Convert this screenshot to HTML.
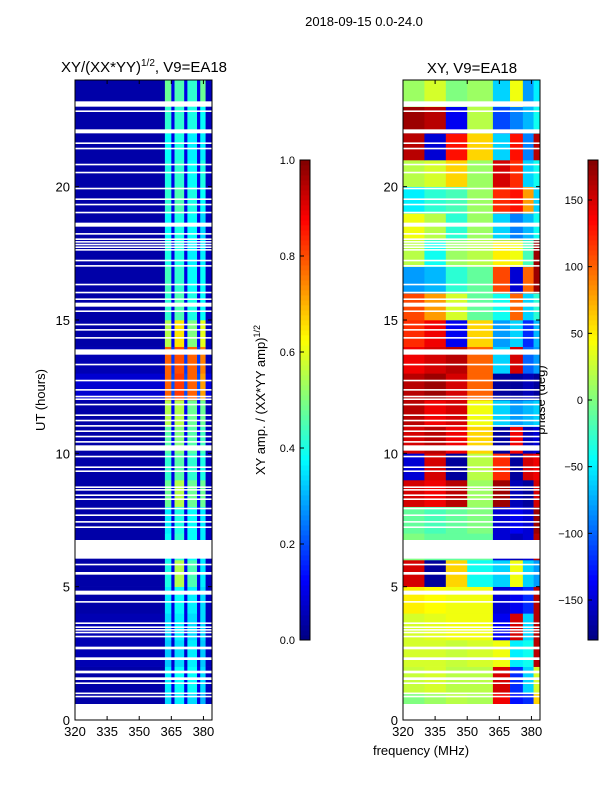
<!DOCTYPE html>
<html><head><meta charset="utf-8"><style>
html,body{margin:0;padding:0;background:#fff;}
svg text{font-family:"Liberation Sans","DejaVu Sans",sans-serif;fill:#000;}
</style></head><body>
<svg id="fig" width="600" height="800" viewBox="0 0 600 800" xmlns="http://www.w3.org/2000/svg">
<text x="364" y="26" font-size="13" text-anchor="middle">2018-09-15 0.0-24.0</text>
<text x="144" y="72" font-size="15" text-anchor="middle">XY/(XX*YY)<tspan font-size="10" dy="-6">1/2</tspan><tspan dy="6">, V9=EA18</tspan></text>
<text x="472" y="73" font-size="15" text-anchor="middle">XY, V9=EA18</text>
<text transform="translate(45,400) rotate(-90)" font-size="13" text-anchor="middle">UT (hours)</text>
<text x="421" y="755" font-size="13" text-anchor="middle">frequency (MHz)</text>
<text transform="translate(265,400) rotate(-90)" font-size="13" text-anchor="middle">XY amp. / (XX*YY amp)<tspan font-size="9" dy="-5">1/2</tspan></text>
<text transform="translate(545,400) rotate(-90)" font-size="13" text-anchor="middle">phase (deg)</text>
<g id="left"></g>
<g id="right"></g>
<g id="axes"></g>
</svg>
<script>
// ---- data ----
const ampFreqEdges=[320,362,365,366.5,371,372.5,377,378.5,381,384];
const ampRows=[
[0.04,0.34,0.08,0.36,0.10,0.34,0.10,0.30,0.06],
[0.04,0.36,0.10,0.38,0.10,0.38,0.10,0.34,0.06],
[0.05,0.32,0.08,0.34,0.08,0.36,0.08,0.32,0.06],
[0.05,0.34,0.10,0.36,0.10,0.34,0.10,0.34,0.06],
[0.04,0.36,0.10,0.38,0.10,0.36,0.10,0.34,0.06],
[0.04,0.40,0.10,0.55,0.12,0.45,0.10,0.36,0.06],
[0.04,0.38,0.10,0.42,0.10,0.38,0.10,0.36,0.06],
[0.04,0.36,0.10,0.40,0.10,0.38,0.10,0.36,0.06],
[0.04,0.48,0.12,0.55,0.12,0.48,0.12,0.48,0.06],
[0.04,0.42,0.10,0.46,0.10,0.42,0.10,0.40,0.06],
[0.04,0.46,0.12,0.50,0.12,0.46,0.12,0.44,0.06],
[0.04,0.55,0.12,0.55,0.12,0.48,0.12,0.48,0.06],
[0.08,0.78,0.20,0.82,0.20,0.78,0.20,0.72,0.10],
[0.05,0.78,0.18,0.80,0.18,0.78,0.18,0.75,0.06],
[0.04,0.55,0.12,0.65,0.12,0.50,0.12,0.60,0.06],
[0.04,0.42,0.10,0.45,0.10,0.40,0.10,0.38,0.06],
[0.04,0.44,0.10,0.42,0.10,0.38,0.10,0.38,0.06],
[0.04,0.40,0.10,0.40,0.10,0.36,0.10,0.36,0.06],
[0.04,0.38,0.10,0.40,0.10,0.38,0.10,0.34,0.06],
[0.04,0.42,0.10,0.45,0.10,0.40,0.10,0.38,0.06],
[0.04,0.40,0.10,0.42,0.10,0.38,0.10,0.40,0.06],
[0.04,0.38,0.10,0.40,0.10,0.36,0.10,0.36,0.06],
[0.04,0.42,0.10,0.42,0.10,0.40,0.10,0.38,0.06],
[0.04,0.48,0.10,0.45,0.10,0.42,0.10,0.48,0.06]];
const phaseFreqEdges=[320,330,340,350,362,370,376,381,384];
const phaseRows=[
[0,10,20,15,140,-130,-120,60],
[25,30,20,20,150,-120,-60,30],
[30,30,25,30,40,-50,-40,160],
[30,35,40,40,-140,150,-60,160],
[50,45,40,40,-150,-140,-120,160],
[150,-170,60,-40,-60,40,-60,-80],
[0,-10,-10,-10,-150,-160,-150,160],
[-10,-20,-10,0,-150,-140,-150,170],
[150,140,160,10,170,-160,-170,150],
[-150,150,-170,20,120,-170,150,140],
[150,160,140,60,-170,140,-160,-150],
[160,140,150,40,-60,-80,-70,-60],
[160,170,150,100,-170,-170,-160,-170],
[140,150,160,100,-60,150,-100,-80],
[120,140,-140,60,-80,-60,-120,-70],
[110,80,30,-10,-40,100,-60,-30],
[-80,-70,-30,-10,110,-150,100,170],
[20,-40,10,20,50,40,-20,170],
[40,20,-30,10,-60,-90,-70,-40],
[-50,-30,-20,10,120,130,80,-60],
[20,30,60,10,150,120,-60,-40],
[160,-150,130,60,-60,130,-90,160],
[170,160,-140,20,-110,-90,-70,-40],
[10,30,0,10,-60,40,-80,-50]];
const flagStarts=[0,0.85,0.97,1.35,1.5,1.75,2.25,2.65,3.1,3.25,3.35,3.45,3.6,4.4,4.7,5.45,5.8,6.05,7.2,7.4,7.65,7.9,8.25,8.4,8.6,8.7,9.3,9.45,9.85,10.1,10.4,10.6,10.8,11.0,11.2,11.4,11.8,12.0,12.1,12.35,12.7,13.3,13.7,14.3,14.6,14.8,15.3,15.5,15.75,16.0,16.3,17.0,17.2,17.6,17.7,17.8,17.9,18.0,18.2,18.5,19.0,19.3,19.5,19.9,20.5,20.8,21.4,21.6,22.0,22.8,23.0];
const flagDurations=[0.6,0.06,0.06,0.06,0.1,0.1,0.1,0.1,0.06,0.06,0.06,0.06,0.06,0.06,0.15,0.1,0.06,0.7,0.06,0.06,0.06,0.06,0.06,0.06,0.06,0.06,0.06,0.06,0.06,0.2,0.06,0.06,0.06,0.06,0.06,0.06,0.06,0.06,0.06,0.06,0.06,0.06,0.2,0.06,0.06,0.06,0.06,0.15,0.06,0.06,0.06,0.06,0.06,0.06,0.06,0.06,0.06,0.06,0.06,0.15,0.06,0.06,0.06,0.06,0.06,0.06,0.06,0.06,0.15,0.06,0.2];
const xTicks=[320,335,350,365,380];
const yTicks=[0,5,10,15,20];
const ampTicks=[0.0,0.2,0.4,0.6,0.8,1.0];
const phaseTicks=[-150,-100,-50,0,50,100,150];
// ---- helpers ----
const NS='http://www.w3.org/2000/svg';
function jet(v){v=Math.max(0,Math.min(1,v));
 const c=x=>Math.round(255*Math.max(0,Math.min(1,x)));
 return 'rgb('+c(1.5-Math.abs(4*v-3))+','+c(1.5-Math.abs(4*v-2))+','+c(1.5-Math.abs(4*v-1))+')';}
function mk(tag,attrs,parent){const e=document.createElementNS(NS,tag);for(const k in attrs)e.setAttribute(k,attrs[k]);parent.appendChild(e);return e;}
const Y0=720,Y1=80,TMAX=24;
const yScale=h=>Y0-(Y0-Y1)*h/TMAX;
const panels=[{x0:75,x1:212,g:document.getElementById('left'),edges:ampFreqEdges,rows:ampRows,norm:v=>v,name:'amp-cell'},
 {x0:403,x1:540,g:document.getElementById('right'),edges:phaseFreqEdges,rows:phaseRows,norm:v=>(v+180)/360,name:'phase-cell'}];
const axes=document.getElementById('axes');
panels.forEach((p,pi)=>{
 const xs=f=>p.x0+(p.x1-p.x0)*(f-320)/64;
 p.rows.forEach((row,ri)=>{row.forEach((v,ci)=>{
  const r=mk('rect',{x:xs(p.edges[ci]),y:yScale(ri+1),width:xs(p.edges[ci+1])-xs(p.edges[ci])+0.3,height:yScale(ri)-yScale(ri+1)+0.3,fill:jet(p.norm(v))},p.g);
  
  
 });});
 flagStarts.forEach((s,i)=>{
  const r=mk('rect',{x:p.x0,y:yScale(s+flagDurations[i]),width:p.x1-p.x0,height:yScale(s)-yScale(s+flagDurations[i]),fill:'#fff'},p.g);
  
  
 });
 const fr=mk('rect',{x:p.x0,y:Y1,width:p.x1-p.x0,height:Y0-Y1,fill:'none',stroke:'#000','stroke-width':1},axes);
 
 
 xTicks.forEach(t=>{const x=xs(t);
  mk('line',{x1:x,x2:x,y1:Y0,y2:Y0-4,stroke:'#000'},axes);
  mk('line',{x1:x,x2:x,y1:Y1,y2:Y1+4,stroke:'#000'},axes);
  const tx=mk('text',{x:x,y:Y0+16,'font-size':13,'text-anchor':'middle'},axes);tx.textContent=t;
  
  
 });
 yTicks.forEach(t=>{const y=yScale(t);
  mk('line',{x1:p.x0,x2:p.x0+4,y1:y,y2:y,stroke:'#000'},axes);
  mk('line',{x1:p.x1,x2:p.x1-4,y1:y,y2:y,stroke:'#000'},axes);
  const tx=mk('text',{x:p.x0-5,y:y+5,'font-size':13,'text-anchor':'end'},axes);tx.textContent=t;
  
  
 });
});
// colorbars
const cbs=[{x:300,ticks:ampTicks,lo:0,hi:1,fmt:t=>t.toFixed(1),name:'amp-colorbar'},{x:588,ticks:phaseTicks,lo:-180,hi:180,fmt:t=>(t<0?'\u2212'+(-t):''+t),name:'phase-colorbar'}];
cbs.forEach(cb=>{
 const g=mk('g',{},axes);
 
 
 const N=96;for(let i=0;i<N;i++){mk('rect',{x:cb.x,y:640-(i+1)*480/N,width:10,height:480/N+0.4,fill:jet((i+0.5)/N)},g);}
 mk('rect',{x:cb.x,y:160,width:10,height:480,fill:'none',stroke:'#000'},g);
 cb.ticks.forEach(t=>{const y=640-480*(t-cb.lo)/(cb.hi-cb.lo);
  mk('line',{x1:cb.x,x2:cb.x+4,y1:y,y2:y,stroke:'#000'},g);
  const tx=mk('text',{x:cb.x-5,y:y+4,'font-size':11,'text-anchor':'end'},g);tx.textContent=cb.fmt(t);
  
  
 });
});
</script>
</body></html>
